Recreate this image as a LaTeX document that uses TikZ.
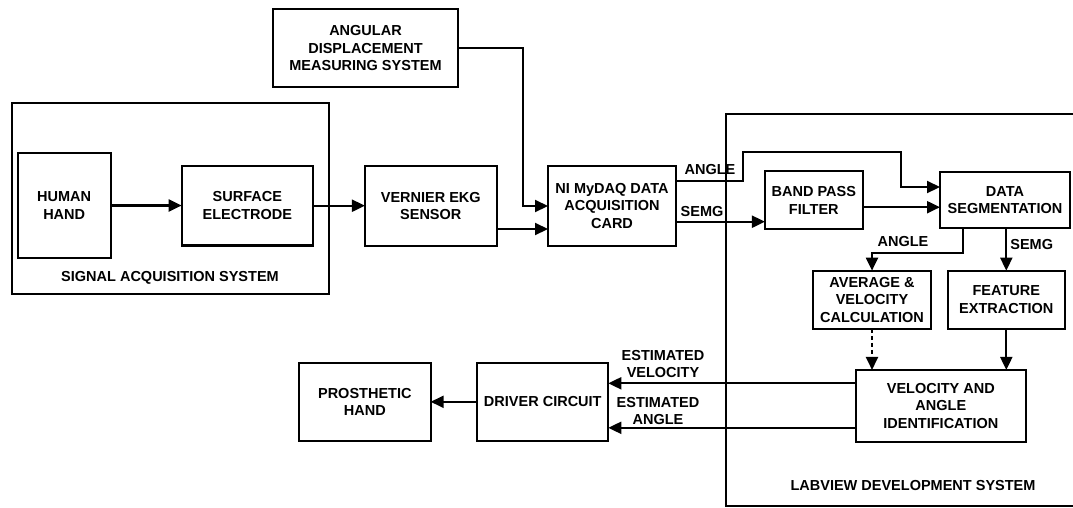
\documentclass[tikz,border=0pt]{standalone}
\usepackage{fontspec}
\setmainfont{Liberation Sans}
\usetikzlibrary{arrows.meta,calc}
\begin{document}
\begin{tikzpicture}[x=1pt,y=-1pt,
  font=\fontsize{14.5}{17.5}\selectfont\bfseries,
  box/.style={draw, rectangle, line width=2.1pt, inner sep=0pt, outer sep=0pt, align=center},
  lbl/.style={inner sep=0pt, align=center},
  conn/.style={line width=2.1pt, -{Triangle[length=13pt,width=12pt]}},
  dconn/.style={conn, dash pattern=on 4pt off 3pt},
]
\fill[white] (0,0) rectangle (1073,507);
\useasboundingbox (0,0) rectangle (1073,507);
\clip (0,0) rectangle (1073,507);

% containers
\node[box, minimum width=317.3pt, minimum height=191pt] (sa) at (170.3,198.5) {};
\node[box, minimum width=364.3pt, minimum height=392pt] (lv) at (907.85,310) {};
\node[lbl] (salbl) at (170,277.7) {SIGNAL ACQUISITION SYSTEM};
\node[lbl] (lvlbl) at (913,485) {LABVIEW DEVELOPMENT SYSTEM};

% blocks
\node[box, minimum width=185.6pt, minimum height=78pt] (ang) at (365.5,48.3) {ANGULAR\\DISPLACEMENT\\MEASURING SYSTEM};
\node[box, minimum width=93pt, minimum height=105.6pt] (hh) at (64.2,205.5) {HUMAN\\HAND};
\node[box, minimum width=131.3pt, minimum height=79.5pt] (se) at (247.3,205.7) {SURFACE\\ELECTRODE};
\node[box, minimum width=131.7pt, minimum height=80pt] (vs) at (430.8,206) {VERNIER EKG\\SENSOR};
\node[box, minimum width=128pt, minimum height=80pt] (card) at (612,206) {NI MyDAQ DATA\\ACQUISITION\\CARD};
\node[box, minimum width=97.7pt, minimum height=58.3pt] (bpf) at (813.8,200.2) {BAND PASS\\FILTER};
\node[box, minimum width=130pt, minimum height=56.6pt] (ds) at (1005,200) {DATA\\SEGMENTATION};
\node[box, minimum width=117.4pt, minimum height=58.3pt] (avg) at (872,299.8) {AVERAGE \&\\VELOCITY\\CALCULATION};
\node[box, minimum width=117.3pt, minimum height=58.3pt] (fe) at (1006.3,299.8) {FEATURE\\EXTRACTION};
\node[box, minimum width=170.3pt, minimum height=71.7pt] (vai) at (940.8,405.8) {VELOCITY AND\\ANGLE\\IDENTIFICATION};
\node[box, minimum width=131.7pt, minimum height=78.3pt] (ph) at (364.8,401.8) {PROSTHETIC\\HAND};
\node[box, minimum width=131pt, minimum height=78.3pt] (dc) at (542.8,401.8) {DRIVER CIRCUIT};

% connectors
\draw[conn] (hh.east) -- (hh.east -| se.west);
\draw[conn] (se.east) -- (se.east -| vs.west);
\draw[conn] (ang.east) -| ([xshift=-25pt]card.west) -- (card.west);
\draw[conn] ([yshift=-23pt]vs.east) -- ([yshift=-23pt]vs.east -| card.west);

\coordinate (a1) at (743,152);
\coordinate (a2) at (901,152);
\draw[conn] ([yshift=25pt]card.east) -| (a1) -- (a2) |- ([yshift=13pt]ds.west);
\draw[conn] ([yshift=-15.7pt]card.east) -- ([yshift=-15.7pt]card.east -| bpf.west);
\draw[conn] ([yshift=-7pt]bpf.east) -- ([yshift=-7pt]bpf.east -| ds.west);

\coordinate (b1) at (962.7,253.3);
\draw[conn] (b1 |- ds.south) -- (b1) -| (avg.north);
\draw[conn] (fe.north |- ds.south) -- (fe.north);
\draw[dconn] (avg.south) -- (avg.south |- vai.north);
\draw[conn] (fe.south) -- (fe.south |- vai.north);

\draw[conn] ([yshift=22.5pt]vai.west) -- ([yshift=22.5pt]vai.west -| dc.east);
\draw[conn] ([yshift=-22pt]vai.west) -- ([yshift=-22pt]vai.west -| dc.east);
\draw[conn] (dc.west) -- (dc.west -| ph.east);

% connector labels
\node[lbl] (l1) at (710,170) {ANGLE};
\node[lbl] (l2) at (702,211.7) {SEMG};
\node[lbl] (l3) at (903,241.7) {ANGLE};
\node[lbl] (l4) at (1031.7,245) {SEMG};
\node[lbl] (l5) at (663,364) {ESTIMATED\\VELOCITY};
\node[lbl] (l6) at (658,411) {ESTIMATED\\ANGLE};
\end{tikzpicture}
\end{document}
